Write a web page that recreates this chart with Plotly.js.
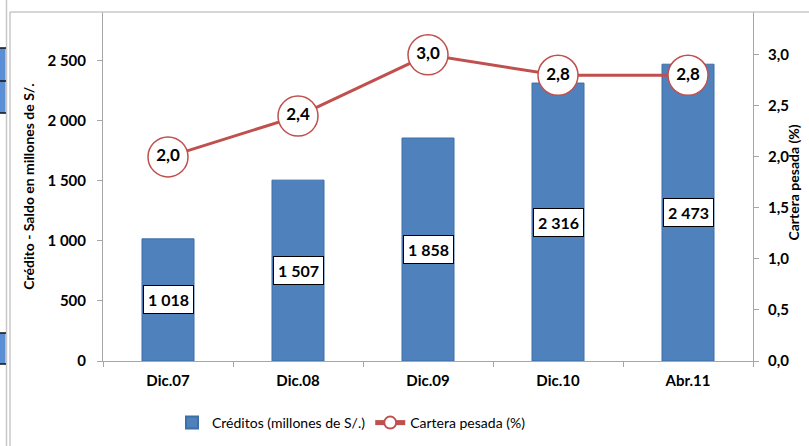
<!DOCTYPE html>
<html>
<head>
<meta charset="utf-8">
<script src="https://cdn.plot.ly/plotly-3.0.1.min.js"></script>
<style>
  html, body { margin: 0; padding: 0; background: #ffffff; }
  #chart { width: 809px; height: 446px; }
</style>
</head>
<body>
<div id="chart"></div>
<script>
const periods = ["Dic.07", "Dic.08", "Dic.09", "Dic.10", "Abr.11"];
const creditos = [1018, 1507, 1858, 2316, 2473];
const carteraPesada = [2.0, 2.4, 3.0, 2.8, 2.8];

const leftTicks = [0, 500, 1000, 1500, 2000, 2500];
const rightTicks = [0, 0.5, 1.0, 1.5, 2.0, 2.5, 3.0];

const FONT = "Lato, 'Open Sans', sans-serif";
const BAR_BLUE = "#4f81bd";
const LINE_RED = "#c0504d";
const AXIS_GREY = "#a6a6a6";

// page-pixel -> paper helpers (plot area is 103..753 x 12..361)
const W = 809, H = 446;
const M = { l: 103, r: 56, t: 12, b: 85 };
const px = (x) => (x - M.l) / (W - M.l - M.r);
const py = (y) => (H - M.b - y) / (H - M.t - M.b);

function thousands(v) {
    return String(v).replace(/\B(?=(\d{3})+(?!\d))/g, " ");
}
function decimal1(v) {
    return v.toFixed(1).replace(".", ",");
}

const traces = [
    {
        type: "bar",
        x: periods,
        y: creditos,
        width: 0.4,
        name: "Créditos (millones de S/.)",
        marker: { color: BAR_BLUE, line: { color: "#3d6fa8", width: 1 } },
        hoverinfo: "skip",
    },
    {
        type: "scatter",
        mode: "lines+markers",
        x: periods,
        y: carteraPesada,
        yaxis: "y2",
        name: "Cartera pesada (%)",
        line: { color: LINE_RED, width: 3 },
        marker: {
            symbol: "circle",
            size: 40,
            color: "#ffffff",
            line: { color: LINE_RED, width: 1.5 },
        },
        hoverinfo: "skip",
    },
    {
        type: "scatter",
        mode: "text",
        x: periods,
        y: carteraPesada,
        yaxis: "y2",
        text: carteraPesada.map(decimal1),
        textposition: "middle center",
        textfont: { family: FONT, size: 17, color: "#000000", weight: "bold" },
        showlegend: false,
        hoverinfo: "skip",
    },
];

const annotations = creditos.map((v, i) => ({
    x: periods[i],
    y: v / 2,
    xref: "x",
    yref: "y",
    text: "<b>" + thousands(v) + "</b>",
    showarrow: false,
    bgcolor: "#ffffff",
    bordercolor: "#000000",
    borderwidth: 1,
    borderpad: 4,
    font: { family: FONT, size: 16, color: "#000000" },
}));

// right axis title, pushed against the right edge as in the original
annotations.push({
    xref: "paper",
    yref: "paper",
    x: px(803),
    y: py(183),
    text: "<b>Cartera pesada (%)</b>",
    textangle: -90,
    showarrow: false,
    font: { family: FONT, size: 14, color: "#000000" },
});

const greyLine = { color: "#c8c8c8", width: 1.5 };
const blackLine = { color: "#111111", width: 1.5 };
const shapes = [
    // outer frame of the embedded chart
    { type: "line", xref: "paper", yref: "paper", x0: px(10), x1: px(809), y0: py(12), y1: py(12), line: greyLine },
    { type: "line", xref: "paper", yref: "paper", x0: px(10), x1: px(10), y0: py(12), y1: py(446), line: greyLine },
    { type: "line", xref: "paper", yref: "paper", x0: px(6.5), x1: px(6.5), y0: py(0), y1: py(446), line: greyLine },
    // cut-off pieces at the left edge
    { type: "rect", xref: "paper", yref: "paper", x0: px(0), x1: px(5.5), y0: py(48), y1: py(113), fillcolor: "#5a8fd6", line: { width: 0 } },
    { type: "rect", xref: "paper", yref: "paper", x0: px(0), x1: px(5.5), y0: py(333), y1: py(364), fillcolor: "#5a8fd6", line: { width: 0 } },
    { type: "line", xref: "paper", yref: "paper", x0: px(0), x1: px(6), y0: py(48), y1: py(48), line: blackLine },
    { type: "line", xref: "paper", yref: "paper", x0: px(0), x1: px(6), y0: py(81), y1: py(81), line: blackLine },
    { type: "line", xref: "paper", yref: "paper", x0: px(0), x1: px(6), y0: py(113), y1: py(113), line: blackLine },
    { type: "line", xref: "paper", yref: "paper", x0: px(0), x1: px(6), y0: py(333), y1: py(333), line: blackLine },
    { type: "line", xref: "paper", yref: "paper", x0: px(0), x1: px(6), y0: py(364), y1: py(364), line: blackLine },
];

const tickFont = { family: FONT, size: 15, color: "#000000", weight: "bold" };

const layout = {
    width: W,
    height: H,
    margin: { l: M.l, r: M.r, t: M.t, b: M.b, pad: 0, autoexpand: false },
    paper_bgcolor: "#ffffff",
    plot_bgcolor: "#ffffff",
    separators: ", ",
    font: { family: FONT, color: "#000000" },
    showlegend: true,
    legend: {
        orientation: "h",
        xref: "container",
        yref: "container",
        x: 172 / W,
        xanchor: "left",
        y: (H - 423) / H,
        yanchor: "middle",
        font: { family: FONT, size: 14, color: "#000000" },
        bgcolor: "rgba(0,0,0,0)",
        itemsizing: "constant",
    },
    xaxis: {
        type: "category",
        showgrid: false,
        zeroline: false,
        showline: true,
        linecolor: AXIS_GREY,
        linewidth: 1,
        ticks: "outside",
        tickson: "boundaries",
        ticklen: 5,
        tickcolor: AXIS_GREY,
        tickfont: tickFont,
        ticklabelstandoff: 6,
        fixedrange: true,
    },
    yaxis: {
        range: [0, 2908],
        tickvals: leftTicks,
        tickformat: ",d",
        showgrid: false,
        zeroline: false,
        showline: true,
        linecolor: AXIS_GREY,
        ticks: "outside",
        ticklen: 5,
        tickcolor: AXIS_GREY,
        tickfont: tickFont,
        ticklabelstandoff: 8,
        title: {
            text: "Crédito - Saldo en millones de S/.",
            font: { family: FONT, size: 14, color: "#000000", weight: "bold" },
            standoff: 9,
        },
        fixedrange: true,
    },
    yaxis2: {
        overlaying: "y",
        side: "right",
        range: [0, 3.42],
        tickvals: rightTicks,
        tickformat: ".1f",
        showgrid: false,
        zeroline: false,
        showline: true,
        linecolor: AXIS_GREY,
        ticks: "outside",
        ticklen: 5,
        tickcolor: AXIS_GREY,
        tickfont: tickFont,
        ticklabelstandoff: 6,
        fixedrange: true,
    },
    annotations: annotations,
    shapes: shapes,
};

Plotly.newPlot("chart", traces, layout, { displayModeBar: false, staticPlot: true });
</script>
</body>
</html>
